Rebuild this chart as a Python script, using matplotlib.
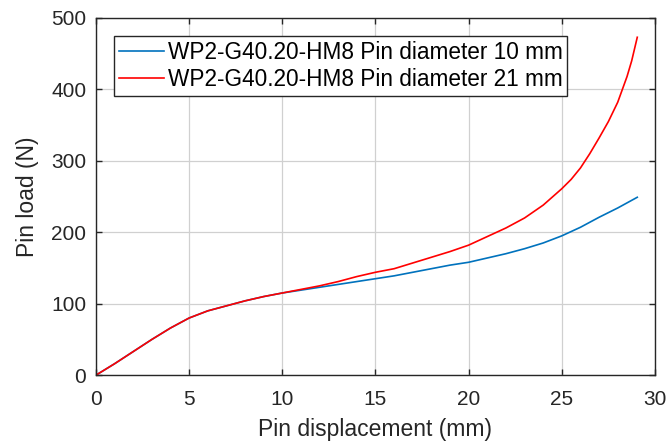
import matplotlib
matplotlib.use("Agg")
import matplotlib.pyplot as plt

plt.rcParams['font.family'] = ['Liberation Sans', 'DejaVu Sans']

x_red = [0, 1, 2, 3, 4, 5, 6, 7, 8, 9, 10, 11, 12, 13, 14, 15, 16, 17, 18,
         19, 20, 21, 22, 23, 24, 25, 25.5, 26, 26.5, 27, 27.5, 28, 28.5, 28.75, 29.05]
y_red = [0, 16, 33, 50, 66, 80, 90, 97, 104, 110, 115, 120, 125, 131, 138, 144,
         149, 157, 165, 173, 182, 194, 206, 220, 238, 261, 274, 290, 310, 332,
         355, 382, 418, 440, 473]

x_blue = [0, 1, 2, 3, 4, 5, 6, 7, 8, 9, 10, 11, 12, 13, 14, 15, 16, 17, 18,
          19, 20, 21, 22, 23, 24, 25, 26, 27, 28, 29.05]
y_blue = [0, 16, 33, 50, 66, 80, 90, 97, 104, 110, 115, 119, 123, 127, 131, 135,
          139, 144, 149, 154, 158, 164, 170, 177, 185, 195, 207, 221, 234, 249]

labels = ['WP2-G40.20-HM8 Pin diameter 10 mm', 'WP2-G40.20-HM8 Pin diameter 21 mm']

fig = plt.figure(figsize=(6.68, 4.45), dpi=100)
ax = fig.add_axes([0.1437, 0.157, 0.8368, 0.8026])

ax.plot(x_blue, y_blue, color=(0, 0.447, 0.741), lw=1.2, label=labels[0])
ax.plot(x_red, y_red, color='#ff0000', lw=1.2, label=labels[1])

ax.set_xlim(0, 30)
ax.set_ylim(0, 500)
ax.set_xticks(range(0, 31, 5))
ax.set_yticks(range(0, 501, 100))
ax.grid(True, color='#d0d0d0', lw=0.9)
ax.set_axisbelow(True)
ax.tick_params(direction='in', length=4, width=1.0, labelsize=15, top=True, right=True,
               labeltop=False, labelright=False, color='#262626', labelcolor='#262626')
ax.tick_params(axis='x', pad=11)
ax.tick_params(axis='y', pad=7)
for s in ax.spines.values():
    s.set_linewidth(1.0)
    s.set_color('#262626')

ax.set_xlabel('Pin displacement (mm)', fontsize=16.5, color='#262626', labelpad=6)
ax.set_ylabel('Pin load (N)', fontsize=16.5, color='#262626', labelpad=9)

leg = ax.legend(loc='upper left', bbox_to_anchor=(0.032, 0.95), borderaxespad=0,
                fontsize=16.3, fancybox=False, framealpha=1, edgecolor='#262626',
                handlelength=2.0, handletextpad=0.15, borderpad=0.22, labelspacing=0.2)
leg.get_frame().set_linewidth(1.0)

fig.savefig('out.png', dpi=100)
